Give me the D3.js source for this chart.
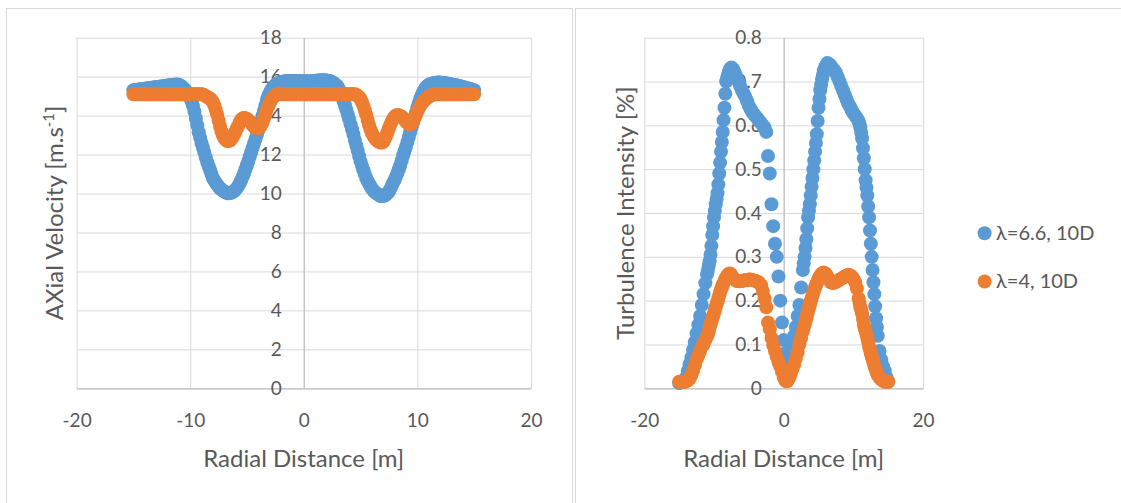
<!DOCTYPE html>
<html>
<head>
<meta charset="utf-8">
<script src="https://cdn.jsdelivr.net/npm/d3@7"></script>
<style>
  html, body { margin: 0; padding: 0; background: #fff; }
  svg { display: block; }
  text { font-family: Lato, "Open Sans", sans-serif; fill: #595959; }
</style>
</head>
<body>
<svg id="chart" width="1121" height="503"></svg>
<script>
// ---------------- DATA ----------------
// Radial positions [m] for the axial velocity profiles
const radialVelocity = [
  -15, -14.875, -14.75, -14.625, -14.5, -14.375, -14.25, -14.125,
  -14, -13.875, -13.75, -13.625, -13.5, -13.375, -13.25, -13.125,
  -13, -12.875, -12.75, -12.625, -12.5, -12.375, -12.25, -12.125,
  -12, -11.875, -11.75, -11.625, -11.5, -11.375, -11.25, -11.125,
  -11, -10.875, -10.75, -10.625, -10.5, -10.375, -10.25, -10.125,
  -10, -9.875, -9.75, -9.625, -9.5, -9.375, -9.25, -9.125,
  -9, -8.875, -8.75, -8.625, -8.5, -8.375, -8.25, -8.125,
  -8, -7.875, -7.75, -7.625, -7.5, -7.375, -7.25, -7.125,
  -7, -6.875, -6.75, -6.625, -6.5, -6.375, -6.25, -6.125,
  -6, -5.875, -5.75, -5.625, -5.5, -5.375, -5.25, -5.125,
  -5, -4.875, -4.75, -4.625, -4.5, -4.375, -4.25, -4.125,
  -4, -3.875, -3.75, -3.625, -3.5, -3.375, -3.25, -3.125,
  -3, -2.875, -2.75, -2.625, -2.5, -2.375, -2.25, -2.125,
  -2, -1.875, -1.75, -1.625, -1.5, -1.375, -1.25, -1.125,
  -1, -0.875, -0.75, -0.625, -0.5, -0.375, -0.25, -0.125,
  0, 0.125, 0.25, 0.375, 0.5, 0.625, 0.75, 0.875,
  1, 1.125, 1.25, 1.375, 1.5, 1.625, 1.75, 1.875,
  2, 2.125, 2.25, 2.375, 2.5, 2.625, 2.75, 2.875,
  3, 3.125, 3.25, 3.375, 3.5, 3.625, 3.75, 3.875,
  4, 4.125, 4.25, 4.375, 4.5, 4.625, 4.75, 4.875,
  5, 5.125, 5.25, 5.375, 5.5, 5.625, 5.75, 5.875,
  6, 6.125, 6.25, 6.375, 6.5, 6.625, 6.75, 6.875,
  7, 7.125, 7.25, 7.375, 7.5, 7.625, 7.75, 7.875,
  8, 8.125, 8.25, 8.375, 8.5, 8.625, 8.75, 8.875,
  9, 9.125, 9.25, 9.375, 9.5, 9.625, 9.75, 9.875,
  10, 10.125, 10.25, 10.375, 10.5, 10.625, 10.75, 10.875,
  11, 11.125, 11.25, 11.375, 11.5, 11.625, 11.75, 11.875,
  12, 12.125, 12.25, 12.375, 12.5, 12.625, 12.75, 12.875,
  13, 13.125, 13.25, 13.375, 13.5, 13.625, 13.75, 13.875,
  14, 14.125, 14.25, 14.375, 14.5, 14.625, 14.75, 14.875,
  15
];

// Axial velocity [m/s], lambda = 6.6, 10D
const velocity66 = [
  15.30, 15.31, 15.32, 15.33, 15.34, 15.35, 15.36, 15.37,
  15.38, 15.39, 15.40, 15.41, 15.42, 15.43, 15.44, 15.45,
  15.46, 15.47, 15.48, 15.49, 15.50, 15.51, 15.52, 15.53,
  15.54, 15.55, 15.56, 15.57, 15.58, 15.59, 15.60, 15.60,
  15.58, 15.55, 15.50, 15.43, 15.35, 15.26, 15.15, 15.03,
  14.90, 14.72, 14.50, 14.20, 13.85, 13.50, 13.15, 12.87,
  12.60, 12.35, 12.10, 11.85, 11.60, 11.40, 11.20, 11.00,
  10.80, 10.67, 10.55, 10.45, 10.35, 10.27, 10.20, 10.15,
  10.10, 10.06, 10.02, 10.01, 10.02, 10.04, 10.08, 10.13,
  10.20, 10.29, 10.40, 10.54, 10.70, 10.87, 11.05, 11.25,
  11.45, 11.67, 11.90, 12.12, 12.35, 12.57, 12.80, 13.02,
  13.25, 13.50, 13.75, 14.00, 14.25, 14.52, 14.80, 15.00,
  15.15, 15.30, 15.42, 15.51, 15.58, 15.63, 15.67, 15.70,
  15.72, 15.74, 15.75, 15.76, 15.77, 15.78, 15.78, 15.78,
  15.78, 15.78, 15.78, 15.78, 15.77, 15.77, 15.77, 15.77,
  15.76, 15.76, 15.76, 15.76, 15.77, 15.77, 15.78, 15.78,
  15.79, 15.79, 15.80, 15.80, 15.81, 15.81, 15.81, 15.81,
  15.80, 15.79, 15.78, 15.76, 15.72, 15.68, 15.62, 15.56,
  15.48, 15.33, 15.15, 14.96, 14.75, 14.53, 14.30, 14.05,
  13.80, 13.55, 13.30, 13.03, 12.75, 12.47, 12.20, 11.92,
  11.65, 11.42, 11.20, 11.00, 10.80, 10.64, 10.50, 10.37,
  10.25, 10.16, 10.08, 10.02, 9.97, 9.92, 9.87, 9.86,
  9.87, 9.90, 9.95, 10.02, 10.10, 10.24, 10.40, 10.55,
  10.70, 10.87, 11.05, 11.25, 11.45, 11.70, 11.95, 12.17,
  12.40, 12.65, 12.90, 13.15, 13.40, 13.65, 13.90, 14.15,
  14.40, 14.63, 14.85, 15.03, 15.20, 15.33, 15.45, 15.52,
  15.58, 15.61, 15.64, 15.66, 15.68, 15.69, 15.70, 15.70,
  15.70, 15.69, 15.68, 15.67, 15.66, 15.65, 15.63, 15.62,
  15.60, 15.59, 15.57, 15.56, 15.54, 15.53, 15.51, 15.49,
  15.47, 15.45, 15.43, 15.41, 15.39, 15.37, 15.35, 15.33,
  15.30
];

// Axial velocity [m/s], lambda = 4, 10D
const velocity4 = [
  15.10, 15.10, 15.10, 15.10, 15.10, 15.10, 15.10, 15.10,
  15.10, 15.10, 15.10, 15.10, 15.10, 15.10, 15.10, 15.10,
  15.10, 15.10, 15.10, 15.10, 15.10, 15.10, 15.10, 15.10,
  15.10, 15.10, 15.10, 15.10, 15.10, 15.10, 15.10, 15.10,
  15.10, 15.10, 15.10, 15.10, 15.10, 15.10, 15.10, 15.10,
  15.10, 15.10, 15.10, 15.10, 15.10, 15.10, 15.10, 15.10,
  15.10, 15.08, 15.05, 15.00, 14.95, 14.92, 14.88, 14.80,
  14.70, 14.52, 14.30, 14.05, 13.75, 13.47, 13.20, 13.00,
  12.85, 12.76, 12.70, 12.69, 12.72, 12.80, 12.90, 13.05,
  13.20, 13.35, 13.50, 13.66, 13.80, 13.86, 13.88, 13.86,
  13.82, 13.77, 13.70, 13.60, 13.50, 13.43, 13.38, 13.36,
  13.35, 13.40, 13.50, 13.65, 13.85, 14.07, 14.30, 14.48,
  14.65, 14.79, 14.90, 14.99, 15.05, 15.08, 15.10, 15.10,
  15.10, 15.10, 15.10, 15.10, 15.10, 15.10, 15.10, 15.10,
  15.10, 15.10, 15.10, 15.10, 15.10, 15.10, 15.10, 15.10,
  15.10, 15.10, 15.10, 15.10, 15.10, 15.10, 15.10, 15.10,
  15.10, 15.10, 15.10, 15.10, 15.10, 15.10, 15.10, 15.10,
  15.10, 15.10, 15.10, 15.10, 15.10, 15.10, 15.10, 15.10,
  15.10, 15.10, 15.10, 15.10, 15.10, 15.10, 15.10, 15.10,
  15.10, 15.10, 15.10, 15.10, 15.10, 15.07, 15.02, 14.95,
  14.85, 14.70, 14.50, 14.28, 14.05, 13.78, 13.50, 13.28,
  13.10, 12.96, 12.85, 12.77, 12.70, 12.65, 12.62, 12.62,
  12.65, 12.78, 12.95, 13.15, 13.35, 13.53, 13.70, 13.84,
  13.95, 14.00, 14.03, 14.02, 13.98, 13.94, 13.88, 13.80,
  13.70, 13.62, 13.55, 13.56, 13.60, 13.70, 13.85, 14.03,
  14.20, 14.36, 14.50, 14.61, 14.70, 14.78, 14.85, 14.91,
  14.97, 15.01, 15.05, 15.08, 15.10, 15.10, 15.10, 15.10,
  15.10, 15.10, 15.10, 15.10, 15.10, 15.10, 15.10, 15.10,
  15.10, 15.10, 15.10, 15.10, 15.10, 15.10, 15.10, 15.10,
  15.10, 15.10, 15.10, 15.10, 15.10, 15.10, 15.10, 15.10,
  15.10
];

// Radial positions [m] for the turbulence intensity profiles
const radialTurbulence = [
  -15, -14.75, -14.5, -14.25, -14, -13.75, -13.5, -13.25, -13, -12.75, -12.5, -12.25, -12, -11.75, -11.5, -11.25,
  -11, -10.875, -10.75, -10.625, -10.5, -10.375, -10.25, -10.125, -10, -9.875, -9.75, -9.625, -9.5, -9.375, -9.25, -9.125,
  -9, -8.875, -8.75, -8.625, -8.5, -8.375, -8.25, -8.125, -8, -7.875, -7.75, -7.625, -7.5,
  -7.25, -7, -6.75, -6.5, -6.25, -6, -5.75, -5.5, -5.25, -5, -4.75, -4.5, -4.25, -4, -3.75, -3.5, -3.25,
  -3, -2.75, -2.5, -2.25, -2, -1.75, -1.5, -1.25, -1, -0.75, -0.5, -0.25, 0, 0.25, 0.5, 0.75,
  1, 1.25, 1.5, 1.75, 2, 2.25, 2.5, 2.75,
  2.875, 3, 3.125, 3.25, 3.375, 3.5, 3.625, 3.75, 3.875, 4, 4.125, 4.25, 4.375, 4.5, 4.625, 4.75, 4.875,
  5, 5.125, 5.25, 5.375, 5.5, 5.625, 5.75,
  6, 6.25, 6.5, 6.75, 7, 7.25, 7.5, 7.75, 8, 8.25, 8.5, 8.75, 9, 9.25, 9.5, 9.75, 10, 10.25, 10.5, 10.75,
  10.875, 11, 11.125, 11.25, 11.375, 11.5, 11.625, 11.75, 11.875, 12, 12.125, 12.25, 12.375, 12.5, 12.625, 12.75, 12.875,
  13, 13.125, 13.25, 13.375, 13.5, 13.75, 14, 14.25, 14.5, 14.75, 15
];

// Turbulence intensity, lambda = 6.6, 10D
const turbulence66 = [
  0.012, 0.013, 0.015, 0.018, 0.025, 0.040, 0.055, 0.070, 0.088, 0.105, 0.125, 0.145, 0.165, 0.190, 0.215, 0.240,
  0.260, 0.270, 0.280, 0.290, 0.305, 0.325, 0.350, 0.370, 0.390, 0.405, 0.420, 0.432, 0.445, 0.465, 0.490, 0.515,
  0.540, 0.562, 0.585, 0.612, 0.640, 0.672, 0.700, 0.708, 0.715, 0.722, 0.727, 0.730, 0.732,
  0.728, 0.720, 0.710, 0.700, 0.690, 0.680, 0.672, 0.665, 0.655, 0.645, 0.637, 0.630, 0.625, 0.620, 0.615, 0.610, 0.605,
  0.600, 0.595, 0.585, 0.530, 0.490, 0.420, 0.370, 0.330, 0.300, 0.255, 0.200, 0.150, 0.110, 0.080, 0.060, 0.075,
  0.090, 0.105, 0.120, 0.140, 0.165, 0.190, 0.230, 0.270,
  0.285, 0.300, 0.320, 0.340, 0.365, 0.390, 0.405, 0.420, 0.440, 0.460, 0.480, 0.500, 0.520, 0.540, 0.560, 0.580, 0.610,
  0.640, 0.660, 0.680, 0.693, 0.705, 0.715, 0.725,
  0.735, 0.742, 0.740, 0.736, 0.730, 0.725, 0.720, 0.710, 0.700, 0.690, 0.680, 0.670, 0.660, 0.650, 0.643, 0.635, 0.628, 0.622, 0.617, 0.610,
  0.603, 0.595, 0.583, 0.570, 0.548, 0.525, 0.500, 0.475, 0.458, 0.440, 0.415, 0.390, 0.360, 0.330, 0.300, 0.270, 0.242,
  0.215, 0.187, 0.160, 0.140, 0.120, 0.085, 0.065, 0.050, 0.040, 0.025, 0.015
];

// Turbulence intensity, lambda = 4, 10D
const turbulence4 = [
  0.015, 0.015, 0.015, 0.015, 0.016, 0.018, 0.022, 0.030, 0.040, 0.052, 0.065, 0.075, 0.085, 0.095, 0.100, 0.110,
  0.118, 0.124, 0.130, 0.138, 0.145, 0.152, 0.158, 0.165, 0.171, 0.178, 0.185, 0.192, 0.198, 0.205, 0.212, 0.219,
  0.225, 0.230, 0.235, 0.240, 0.245, 0.249, 0.253, 0.256, 0.259, 0.261, 0.262, 0.261, 0.258,
  0.252, 0.248, 0.245, 0.244, 0.244, 0.245, 0.246, 0.247, 0.247, 0.248, 0.248, 0.247, 0.246, 0.245, 0.243, 0.240, 0.235,
  0.222, 0.205, 0.185, 0.150, 0.135, 0.115, 0.098, 0.085, 0.072, 0.060, 0.050, 0.038, 0.025, 0.017, 0.016, 0.022,
  0.032, 0.044, 0.055, 0.068, 0.082, 0.100, 0.115, 0.130,
  0.138, 0.145, 0.152, 0.160, 0.168, 0.176, 0.183, 0.190, 0.198, 0.205, 0.212, 0.218, 0.224, 0.230, 0.235, 0.240, 0.245,
  0.250, 0.254, 0.257, 0.260, 0.262, 0.263, 0.264,
  0.262, 0.255, 0.248, 0.242, 0.240, 0.241, 0.243, 0.245, 0.248, 0.250, 0.252, 0.255, 0.257, 0.259, 0.258, 0.255, 0.250, 0.242, 0.228, 0.205,
  0.195, 0.185, 0.178, 0.170, 0.158, 0.145, 0.137, 0.130, 0.122, 0.115, 0.105, 0.095, 0.088, 0.080, 0.073, 0.066, 0.059,
  0.052, 0.046, 0.040, 0.035, 0.030, 0.024, 0.020, 0.017, 0.015, 0.015, 0.015
];

const seriesNames = ["λ=6.6, 10D", "λ=4, 10D"];
const velocityTicks = [0, 2, 4, 6, 8, 10, 12, 14, 16, 18];
const turbulenceTicks = [0, 0.1, 0.2, 0.3, 0.4, 0.5, 0.6, 0.7, 0.8];
const radialTicksLeft = [-20, -10, 0, 10, 20];
const radialTicksRight = [-20, 0, 20];

// ---------------- STYLE ----------------
const colors = ["#5B9BD5", "#ED7D31"];
const gridColor = "#d9d9d9";
const axisColor = "#bfbfbf";
const dotR = 7;
const tickFont = 19;
const titleFont = 24;
const legendFont = 20;

const svg = d3.select("#chart");
svg.append("rect").attr("width", 1121).attr("height", 503).attr("fill", "#fff");

// chart frames
svg.append("rect").attr("x", 6.5).attr("y", 8.5).attr("width", 566).attr("height", 620)
  .attr("fill", "none").attr("stroke", gridColor).attr("stroke-width", 1);
svg.append("rect").attr("x", 575.5).attr("y", 8.5).attr("width", 620).attr("height", 620)
  .attr("fill", "none").attr("stroke", gridColor).attr("stroke-width", 1);

function panel(opts) {
  const { x, y, xTicks, yTicks, radial, data, yTitle, titleX } = opts;
  const g = svg.append("g");
  const [x0, x1] = x.range();
  const [yb, yt] = y.range();

  // gridlines
  g.append("g").attr("transform", `translate(0,${yb})`)
    .call(d3.axisBottom(x).tickValues(xTicks).tickSize(-(yb - yt)).tickFormat(""))
    .call(s => s.select(".domain").remove())
    .call(s => s.selectAll("line").attr("stroke", gridColor).attr("stroke-width", 1));
  g.append("g").attr("transform", `translate(${x0},0)`)
    .call(d3.axisLeft(y).tickValues(yTicks).tickSize(-(x1 - x0)).tickFormat(""))
    .call(s => s.select(".domain").remove())
    .call(s => s.selectAll("line").attr("stroke", gridColor).attr("stroke-width", 1));

  // axes (crossing at zero)
  const xAxis = g.append("g").attr("transform", `translate(0,${y(0)})`)
    .call(d3.axisBottom(x).tickValues(xTicks).tickSize(0).tickPadding(25).tickFormat(d => String(d)));
  xAxis.select(".domain").attr("stroke", axisColor).attr("stroke-width", 1.2);
  xAxis.selectAll("text").attr("font-size", tickFont).attr("font-family", "Lato").attr("fill", "#595959");

  const yAxis = g.append("g").attr("transform", `translate(${x(0)},0)`)
    .call(d3.axisLeft(y).tickValues(yTicks).tickSize(0).tickPadding(22).tickFormat(d => String(d)));
  yAxis.select(".domain").attr("stroke", axisColor).attr("stroke-width", 1.2);
  yAxis.selectAll("text").attr("font-size", tickFont).attr("font-family", "Lato").attr("fill", "#595959");

  // dots
  data.forEach((vals, si) => {
    g.append("g").selectAll("circle").data(radial.map((r, i) => [r, vals[i]]))
      .join("circle")
      .attr("cx", d => x(d[0])).attr("cy", d => y(d[1])).attr("r", dotR)
      .attr("fill", colors[si]);
  });

  // axis titles
  g.append("text").attr("x", (x0 + x1) / 2).attr("y", 467)
    .attr("text-anchor", "middle").attr("font-size", titleFont)
    .text("Radial Distance [m]");
  const yt2 = g.append("text")
    .attr("transform", `translate(${titleX},${(yb + yt) / 2}) rotate(-90)`)
    .attr("text-anchor", "middle").attr("font-size", titleFont);
  yTitle(yt2);
}

const xL = d3.scaleLinear().domain([-20, 20]).range([76.6, 530.9]);
const yL = d3.scaleLinear().domain([0, 18]).range([388.3, 37.7]);
const xR = d3.scaleLinear().domain([-20, 20]).range([644.3, 923.1]);
const yR = d3.scaleLinear().domain([0, 0.8]).range([388.3, 37.7]);

panel({
  x: xL, y: yL, xTicks: radialTicksLeft, yTicks: velocityTicks,
  radial: radialVelocity, data: [velocity66, velocity4], titleX: 63,
  yTitle: t => {
    t.append("tspan").text("AXial Velocity [m.s");
    t.append("tspan").attr("baseline-shift", "super").attr("font-size", titleFont * 0.62).text("-1");
    t.append("tspan").text("]");
  }
});
panel({
  x: xR, y: yR, xTicks: radialTicksRight, yTicks: turbulenceTicks,
  radial: radialTurbulence, data: [turbulence66, turbulence4], titleX: 634,
  yTitle: t => t.text("Turbulence Intensity [%]")
});

// legend
const legend = svg.append("g");
const legendY = [240, 288.3];
seriesNames.forEach((name, i) => {
  legend.append("circle").attr("cx", 984.6).attr("cy", legendY[i] - 6.8).attr("r", dotR).attr("fill", colors[i]);
  legend.append("text").attr("x", 996).attr("y", legendY[i]).attr("font-size", legendFont).text(name);
});
</script>
</body>
</html>
